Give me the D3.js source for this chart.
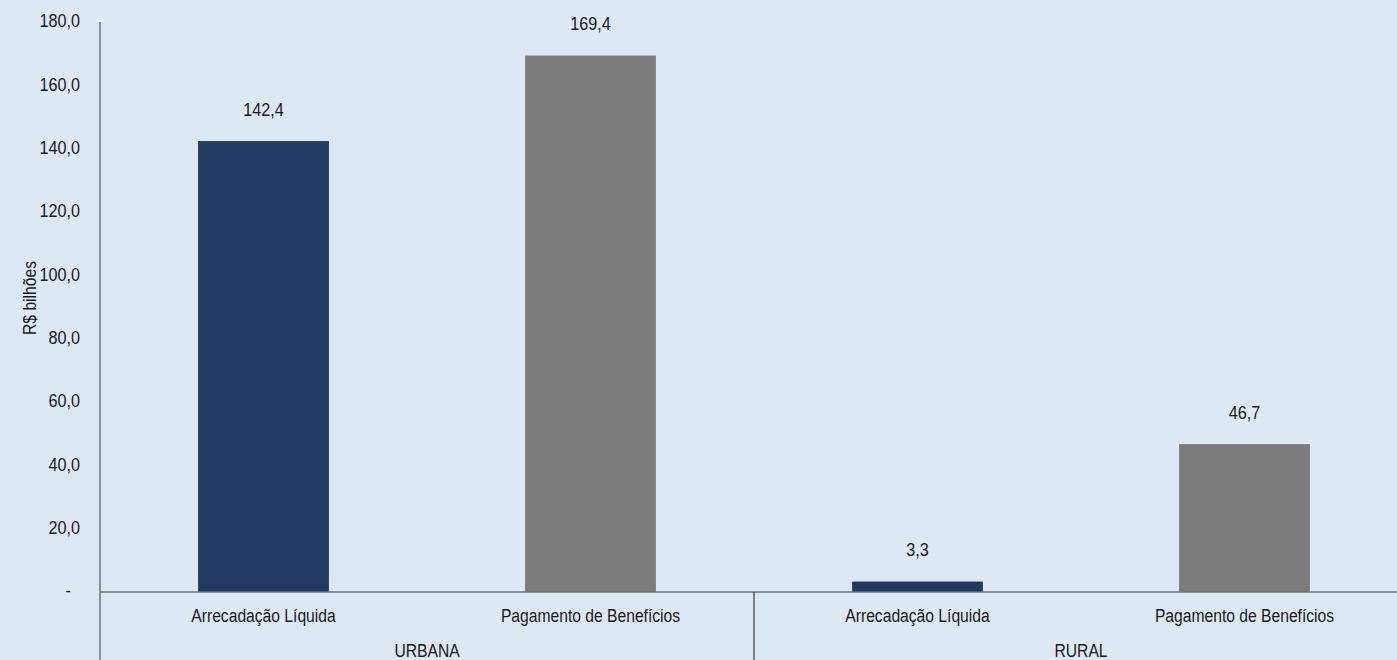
<!DOCTYPE html>
<html>
<head>
<meta charset="utf-8">
<script src="https://cdn.jsdelivr.net/npm/d3@7"></script>
<style>
  html, body { margin: 0; padding: 0; background: #dde8f5; overflow: hidden; }
  svg { display: block; }
  text { font-family: "Liberation Sans Narrow", "Arial Narrow", "Liberation Sans", Arial, sans-serif; fill: #1a1a1a; }
</style>
</head>
<body>
<svg id="chart" width="1397" height="660"></svg>
<script>
// Receitas e despesas da previdência por clientela (R$ bilhões)
const groups = ["URBANA", "RURAL"];
const categories = ["Arrecadação Líquida", "Pagamento de Benefícios", "Arrecadação Líquida", "Pagamento de Benefícios"];
const categoryGroup = ["URBANA", "URBANA", "RURAL", "RURAL"];
const values = [142.4, 169.4, 3.3, 46.7];
const barColors = ["#213963", "#7b7b7b", "#213963", "#7b7b7b"];
const yTicks = [0, 20, 40, 60, 80, 100, 120, 140, 160, 180];

const fmt = v => v === 0 ? "-" : d3.format(".1f")(v).replace(".", ",");

const svg = d3.select("#chart");
const W = 1397, H = 660;
const plotLeft = 100, plotRight = 1408, plotTop = 22, baseline = 592;
const FONT = "18px";
const NUM_SQUEEZE = 0.9;   // condensed look for numbers
const WORD_SQUEEZE = 0.87; // condensed look for words

// place a condensed text label centred (or anchored) at (px, py)
function placeText(sel, px, py, squeeze) {
  sel.attr("x", null).attr("y", null)
    .attr("transform", (d, i) => `translate(${px(d, i)},${py(d, i)}) scale(${squeeze},1)`);
}

const x = d3.scaleBand()
  .domain(d3.range(categories.length))
  .range([plotLeft, plotRight])
  .paddingInner(0.6)
  .paddingOuter(0.3);

const y = d3.scaleLinear().domain([0, 180]).range([baseline, plotTop]);

// Y axis labels (zero shown as an accounting dash, set in a little further)
const yAxis = d3.axisLeft(y).tickValues(yTicks).tickFormat(fmt).tickSize(0).tickPadding(20);
const gy = svg.append("g").attr("transform", `translate(${plotLeft},0)`).call(yAxis);
gy.select(".domain").remove();
gy.selectAll("text")
  .style("font-size", FONT)
  .style("font-family", "\"Liberation Sans Narrow\", \"Arial Narrow\", \"Liberation Sans\", Arial, sans-serif")
  .attr("fill", "#1a1a1a")
  .attr("dy", null)
  .attr("dominant-baseline", "middle")
  .attr("x", null)
  .attr("transform", d => `translate(${d === 0 ? -29 : -20},0) scale(${NUM_SQUEEZE},1)`);

// Bars
svg.append("g").selectAll("rect")
  .data(values)
  .join("rect")
  .attr("x", (d, i) => x(i))
  .attr("width", x.bandwidth())
  .attr("y", d => y(d))
  .attr("height", d => y(0) - y(d))
  .attr("fill", (d, i) => barColors[i]);

// Value labels
svg.append("g").selectAll("text")
  .data(values)
  .join("text")
  .attr("text-anchor", "middle")
  .attr("dominant-baseline", "middle")
  .style("font-size", FONT)
  .text(fmt)
  .call(placeText, (d, i) => x(i) + x.bandwidth() / 2, d => y(d) - 30, NUM_SQUEEZE);

// Axis lines
const axisColor = "#6b737b";
svg.append("line")
  .attr("x1", plotLeft).attr("x2", plotLeft).attr("y1", plotTop).attr("y2", H)
  .attr("stroke", axisColor).attr("stroke-width", 1.5);
svg.append("line")
  .attr("x1", plotLeft).attr("x2", plotRight).attr("y1", baseline).attr("y2", baseline)
  .attr("stroke", axisColor).attr("stroke-width", 1.5);

// Category labels
svg.append("g").selectAll("text")
  .data(categories)
  .join("text")
  .attr("text-anchor", "middle")
  .attr("dominant-baseline", "middle")
  .style("font-size", FONT)
  .text(d => d)
  .call(placeText, (d, i) => x(i) + x.bandwidth() / 2, () => 617, WORD_SQUEEZE);

// Group labels and separators
const groupSpan = groups.map(g => {
  const idx = categoryGroup.map((c, i) => c === g ? i : -1).filter(i => i >= 0);
  const start = x(idx[0]) - x.step() * x.paddingInner() / 2;
  const end = x(idx[idx.length - 1]) + x.bandwidth() + x.step() * x.paddingInner() / 2;
  return { g, start, end };
});
svg.append("g").selectAll("text")
  .data(groupSpan)
  .join("text")
  .attr("text-anchor", "middle")
  .attr("dominant-baseline", "middle")
  .style("font-size", FONT)
  .text(d => d.g)
  .call(placeText, d => (d.start + d.end) / 2, () => 652, WORD_SQUEEZE);
svg.append("g").selectAll("line")
  .data(groupSpan.slice(0, -1))
  .join("line")
  .attr("x1", d => d.end).attr("x2", d => d.end)
  .attr("y1", baseline).attr("y2", H)
  .attr("stroke", "#1a1a1a").attr("stroke-width", 1);

// Y axis title
svg.append("text")
  .attr("transform", `translate(31,298) rotate(-90) scale(${WORD_SQUEEZE},1)`)
  .attr("text-anchor", "middle")
  .attr("dominant-baseline", "middle")
  .style("font-size", "18px")
  .text("R$ bilhões");
</script>
</body>
</html>
